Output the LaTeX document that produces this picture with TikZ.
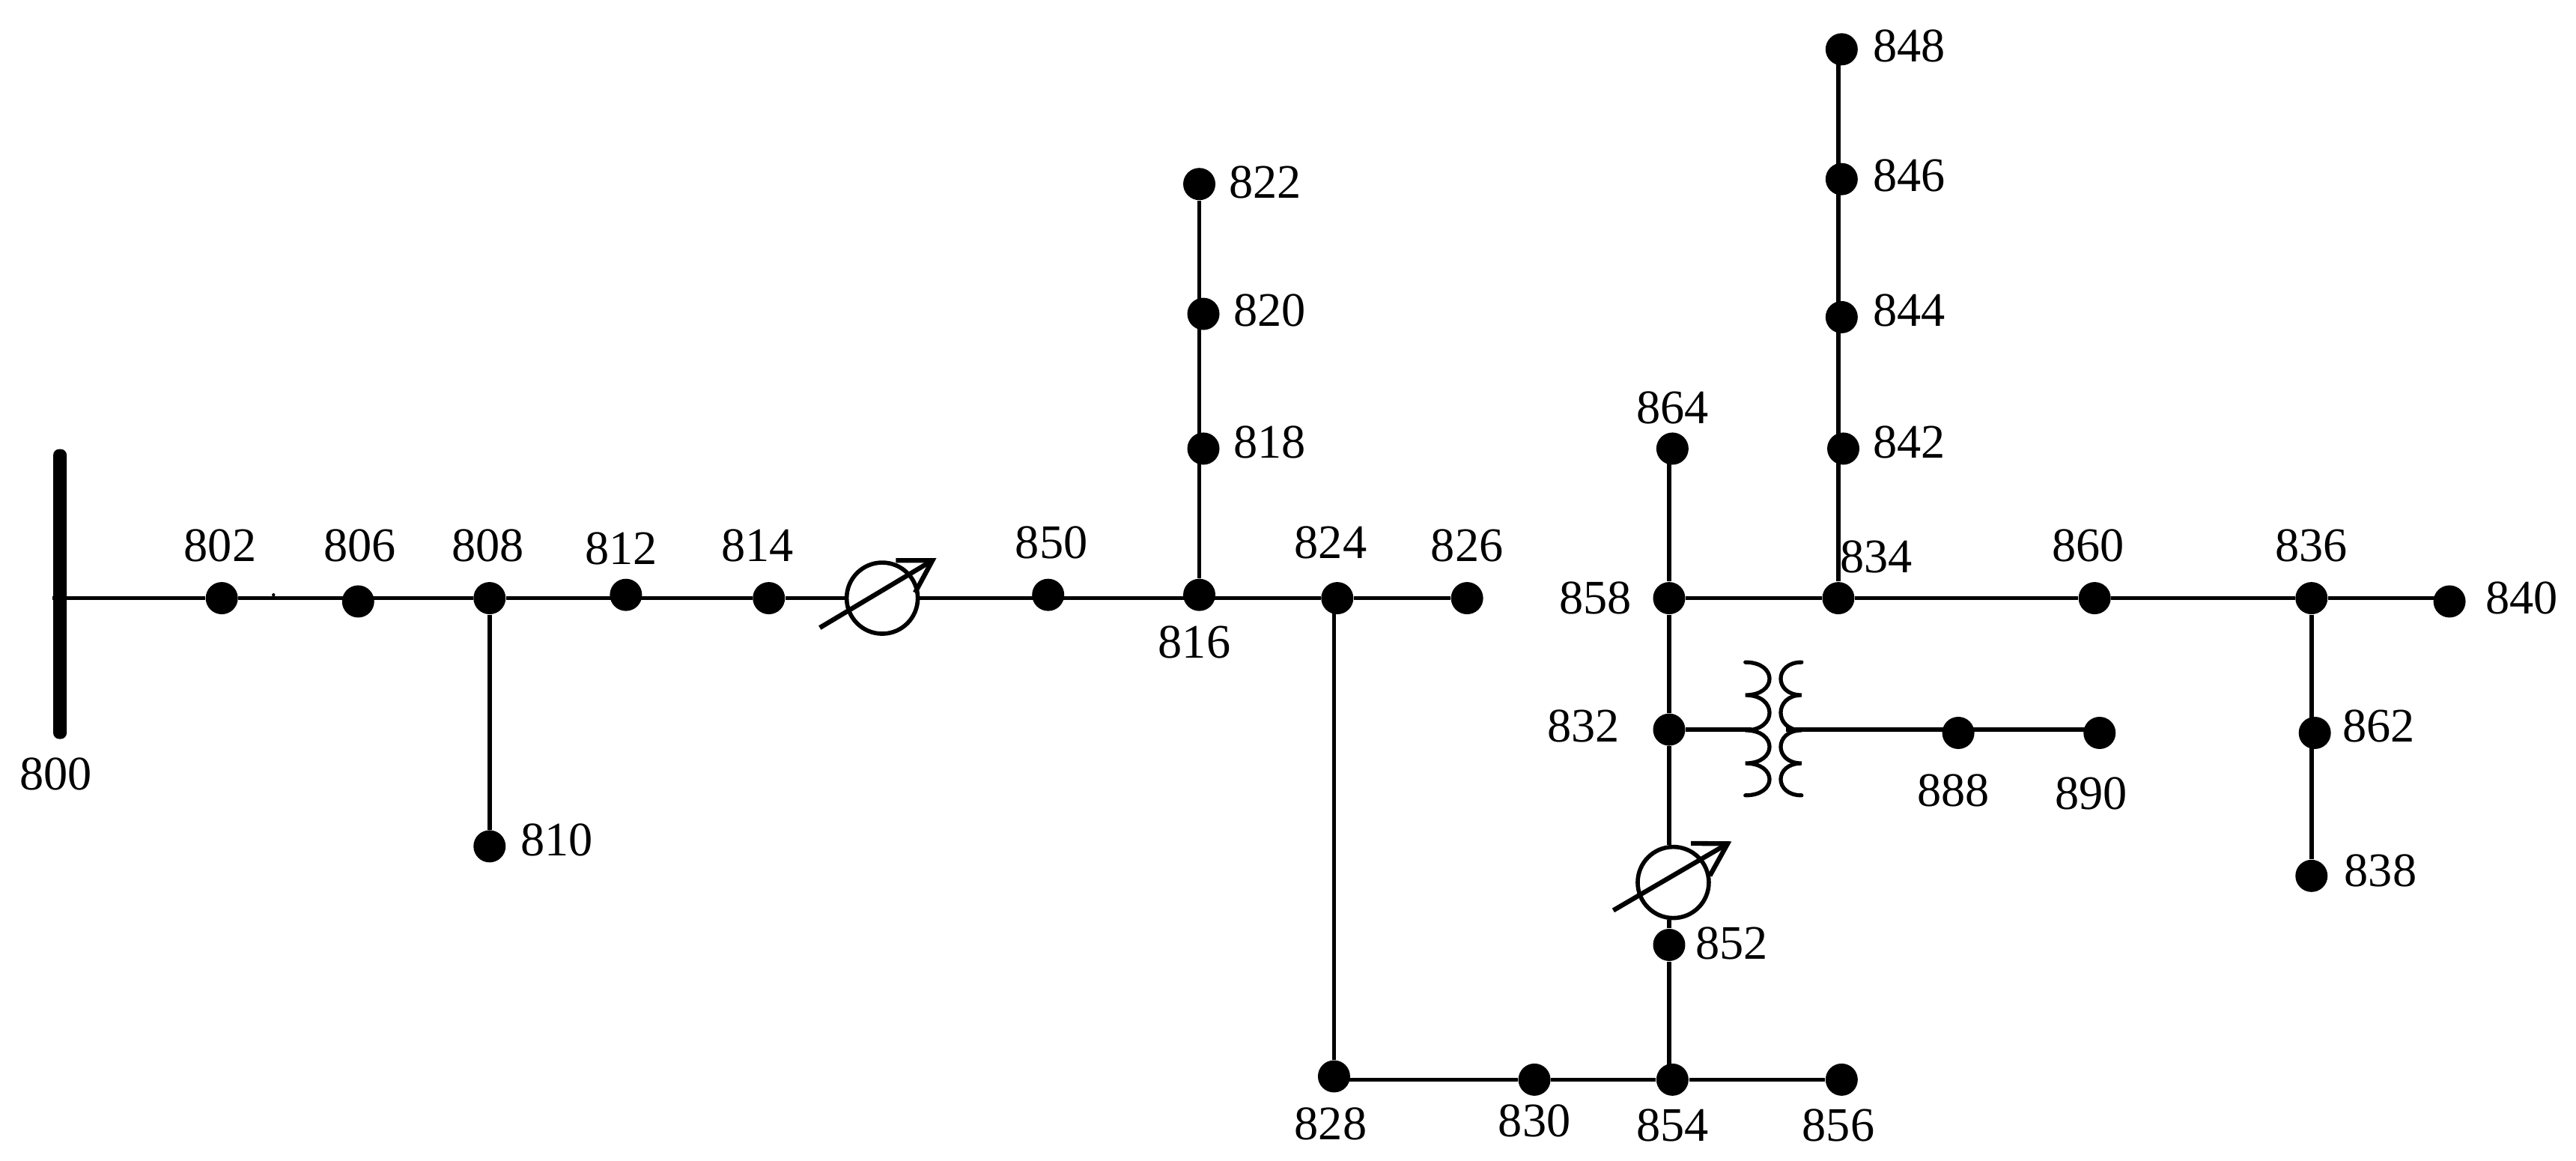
\documentclass[tikz,border=0pt]{standalone}
\usepackage{fontspec}
\setmainfont{Liberation Serif}
\usetikzlibrary{arrows.meta}
\tikzset{
  bus/.style={circle, fill=black, minimum size=0.43cm, inner sep=0pt},
  lab/.style={inner sep=0pt, font=\fontsize{18.3}{20}\selectfont},
  wire/.style={line width=1.55pt, color=black},
  coil/.style={line width=1.5pt, color=black, line cap=round},
  reg/.style={circle, draw=black, line width=1.6pt, minimum size=0.95cm, inner sep=0pt},
  regarrow/.style={line width=1.8pt, -{Straight Barb[length=0.42cm, width=0.5cm]}}
}
\begin{document}
\begin{tikzpicture}[x=0.021939cm, y=-0.021939cm]
  \useasboundingbox (0,0) rectangle (1568,706.5);

  % Source bar
  \node[fill=black, rounded corners=0.08cm, minimum width=0.18cm, minimum height=3.87cm, inner sep=0pt] (n800) at (36.5,361.5) {};
  \node[lab] (t800) at (34,471) {800};
  \coordinate (nstub) at (32,364);

  % Main feeder, left part
  \node[bus] (n802) at (135,364) {};
  \node[lab] (t802) at (134,332) {802};
  \node[bus] (n806) at (218,366) {};
  \node[lab] (t806) at (219,332) {806};
  \node[bus] (n808) at (298,364) {};
  \node[lab] (t808) at (297,332) {808};
  \node[bus] (n810) at (298,515) {};
  \node[lab] (t810) at (339,511) {810};
  \node[bus] (n812) at (381,362) {};
  \node[lab] (t812) at (378,334) {812};
  \node[bus] (n814) at (468,364) {};
  \node[lab] (t814) at (461,332) {814};
  \node[reg] (reg1) at (537,364) {};
  \node[bus] (n850) at (638,362) {};
  \node[lab] (t850) at (640,330) {850};
  \node[bus] (n816) at (730,362) {};
  \node[lab] (t816) at (727,391) {816};
  \node[bus] (n824) at (814,364) {};
  \node[lab] (t824) at (810,330) {824};
  \node[bus] (n826) at (893,364) {};
  \node[lab] (t826) at (893,332) {826};

  % Upper branch at 816
  \node[bus] (n818) at (732.5,273) {};
  \node[lab] (t818) at (773,269) {818};
  \node[bus] (n820) at (732.5,191) {};
  \node[lab] (t820) at (773,189) {820};
  \node[bus] (n822) at (730,112) {};
  \node[lab] (t822) at (770,111) {822};

  % Lower run
  \node[bus] (n828) at (812,655) {};
  \node[lab] (t828) at (810,684) {828};
  \node[bus] (n830) at (934,657) {};
  \node[lab] (t830) at (934,682) {830};
  \node[bus] (n854) at (1018,657) {};
  \node[lab] (t854) at (1018,685) {854};
  \node[bus] (n856) at (1121,657) {};
  \node[lab] (t856) at (1119,685) {856};
  \node[bus] (n852) at (1016,575) {};
  \node[lab] (t852) at (1054,574) {852};
  \node[reg] (reg2) at (1018.5,537) {};

  % Right part
  \node[bus] (n832) at (1016,444) {};
  \node[lab] (t832) at (964,442) {832};
  \node[bus] (n858) at (1016,364) {};
  \node[lab] (t858) at (971,364) {858};
  \node[bus] (n864) at (1018,273) {};
  \node[lab] (t864) at (1018,248) {864};
  \node[bus] (n834) at (1119,364) {};
  \node[lab] (t834) at (1142,339) {834};
  \node[bus] (n842) at (1122,273) {};
  \node[lab] (t842) at (1162,269) {842};
  \node[bus] (n844) at (1121,193) {};
  \node[lab] (t844) at (1162,189) {844};
  \node[bus] (n846) at (1121,109) {};
  \node[lab] (t846) at (1162,107) {846};
  \node[bus] (n848) at (1121,30) {};
  \node[lab] (t848) at (1162,28) {848};
  \node[bus] (n860) at (1275,364) {};
  \node[lab] (t860) at (1271,332) {860};
  \node[bus] (n836) at (1407,364) {};
  \node[lab] (t836) at (1407,332) {836};
  \node[bus] (n840) at (1491,366) {};
  \node[lab] (t840) at (1535,364) {840};
  \node[bus] (n862) at (1409,446) {};
  \node[lab] (t862) at (1448,442) {862};
  \node[bus] (n838) at (1407,533) {};
  \node[lab] (t838) at (1449,530) {838};
  \node[bus] (n888) at (1192,446) {};
  \node[lab] (t888) at (1189,481) {888};
  \node[bus] (n890) at (1278,446) {};
  \node[lab] (t890) at (1273,483) {890};

  % Transformer ends
  \coordinate (tleft) at (1066,444);
  \coordinate (tright) at (1087,444);

  % Connectors
  \draw[wire] (nstub) -- (n802) -- (n806 |- n802) -- (n808) -- (n812 |- n808) -- (n814) -- (reg1);
  \draw[wire] (reg1) -- (n850 |- reg1) -- (n816 |- reg1) -- (n824) -- (n826);
  \draw[wire] (n808) -- (n810);
  \draw[wire] (n816) -- (n822);
  \draw[wire] (n828 |- n824) -- (n828);
  \draw[wire] (n828 |- n830) -- (n830) -- (n854) -- (n856);
  \draw[wire] (n852 |- n854) -- (n852) -- (n852 |- reg2.south);
  \draw[wire] (n832) -- (n832 |- reg2.north);
  \draw[wire] (n864 -| n858) -- (n858) -- (n832);
  \draw[wire] (n858) -- (n834) -- (n860) -- (n836) -- (n840 |- n836);
  \draw[wire] (n834) -- (n834 |- n848);
  \draw[wire] (n836) -- (n838);
  \draw[wire] (n832) -- (tleft);
  \draw[wire] (tright) -- (n888 |- tright) -- (n890 |- tright);

  % Regulator arrows
  \draw[regarrow] (499,382) -- (570,339.6);
  \draw[regarrow] (982,554) -- (1054,512);

  % Transformer coils
  \draw[coil] (1062.4,403) .. controls (1082,403) and (1082,423) .. (1062.4,423) .. controls (1082,423) and (1082,444.4) .. (1062.4,444.4) .. controls (1082,444.4) and (1082,464.5) .. (1062.4,464.5) .. controls (1082,464.5) and (1082,484) .. (1062.4,484);
  \draw[coil] (1096.6,403) .. controls (1079.7,403) and (1079.7,423) .. (1096.6,423) .. controls (1079.7,423) and (1079.7,444.4) .. (1096.6,444.4) .. controls (1079.7,444.4) and (1079.7,464.5) .. (1096.6,464.5) .. controls (1079.7,464.5) and (1079.7,484) .. (1096.6,484);

  % Small mark on the feeder
  \fill (166.5,362) circle (1);
\end{tikzpicture}
\end{document}
